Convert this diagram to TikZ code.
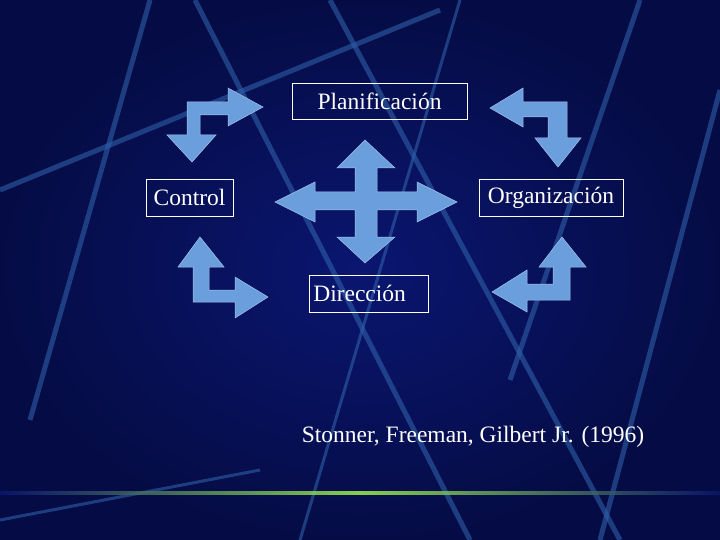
\documentclass[tikz,border=0pt]{standalone}
\usepackage{fontspec}
\setmainfont{Liberation Serif}
\definecolor{bgblue}{HTML}{0A1670}
\definecolor{bgdark}{HTML}{050C45}
\definecolor{streak}{HTML}{2F5FA8}
\definecolor{arrowblue}{HTML}{6A9EDC}
\tikzset{
  label box/.style={draw=white, line width=0.6pt, text=white, font=\fontsize{23.5}{26}\selectfont, inner sep=4pt},
  block arrow/.style={fill=arrowblue, draw=arrowblue!60!white, line width=0.5pt},
  streak line/.style={streak, line width=5pt, opacity=0.6}
}
\begin{document}
\begin{tikzpicture}[x=1pt,y=-1pt]
  % background
  \shade[inner color=bgblue, outer color=bgdark] (0,0) rectangle (720,540);
  \useasboundingbox (0,0) rectangle (720,540);
  \draw[streak line] (195,0) -- (470,540);
  \draw[streak line] (330,0) -- (620,540);
  \draw[streak line] (150,0) -- (30,420);
  \draw[streak line] (640,0) -- (510,380);
  \draw[streak line] (0,190) -- (440,10);
  \draw[streak line] (720,90) -- (600,540);
  \draw[streak line, line width=3pt] (460,0) -- (300,540);
  \draw[streak line, line width=3pt] (0,520) -- (260,470);
  \shade[left color=bgblue, right color=bgblue, middle color=green!50!yellow!70!white, opacity=0.8] (0,491.5) rectangle (720,494.5);
  % boxes
  \node[label box, minimum width=175pt, minimum height=36pt] (plan) at (379.5,101) {Planificación};
  \node[label box, minimum width=87pt, minimum height=37pt] (ctrl) at (189.5,197.5) {Control};
  \node[label box, minimum width=144pt, minimum height=37pt] (org) at (551,197.5) {Organización};
  \node[label box, minimum width=119pt, minimum height=37pt, anchor=west, align=left, text width=111pt] (dir) at (309,293.5) {Dirección};
  \node[text=white, font=\fontsize{23.5}{26}\selectfont] (ref) at (473,437) {Stonner, Freeman, Gilbert Jr. (1996)};
  % bent arrows
  \draw[block arrow] (263,107) -- (228,88) -- (228,102) -- (187,102) -- (187,135) -- (167,135)
    -- (192,162) -- (216,135) -- (200,135) -- (200,115) -- (228,115) -- (228,126) -- cycle;
  \draw[block arrow] (490,108) -- (523,88) -- (523,102) -- (567,102) -- (567,138) -- (581,138)
    -- (558,167) -- (535,138) -- (548,138) -- (548,117) -- (523,117) -- (523,127) -- cycle;
  \draw[block arrow] (200,237) -- (178,267) -- (193,267) -- (193,302) -- (235,302) -- (235,318)
    -- (268,297) -- (235,277) -- (235,290) -- (209,290) -- (209,267) -- (224,267) -- cycle;
  \draw[block arrow] (562,237) -- (539,267) -- (553,267) -- (553,284) -- (527,284) -- (527,270)
    -- (492,292) -- (527,312) -- (527,300) -- (570,300) -- (570,267) -- (586,267) -- cycle;
  % cross
  \draw[block arrow] (365,140) -- (395,168) -- (377,168) -- (377,192) -- (417,192) -- (417,182)
    -- (457,202) -- (417,222) -- (417,210) -- (377,210) -- (377,237) -- (395,237)
    -- (365,263) -- (337,237) -- (355,237) -- (355,210) -- (315,210) -- (315,222)
    -- (275,202) -- (315,182) -- (315,192) -- (355,192) -- (355,168) -- (337,168) -- cycle;
\end{tikzpicture}
\end{document}
